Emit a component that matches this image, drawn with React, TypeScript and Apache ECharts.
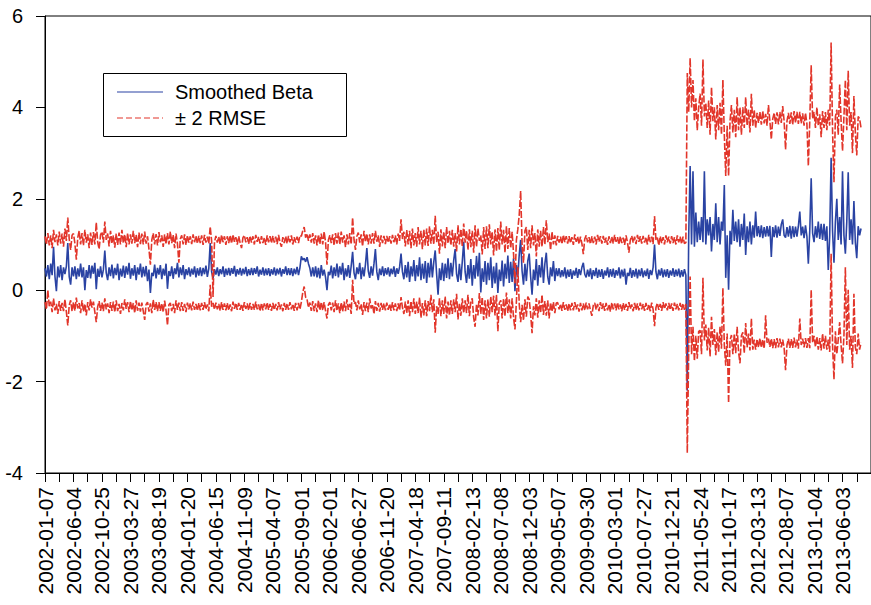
import React, { useEffect, useRef } from "react";
import * as echarts from "echarts";

// x-axis tick labels (one every 100 observations)
const tickLabels = [
  "2002-01-07", "2002-06-04", "2002-10-25", "2003-03-27", "2003-08-19",
  "2004-01-20", "2004-06-15", "2004-11-09", "2005-04-07", "2005-09-01",
  "2006-02-01", "2006-06-27", "2006-11-20", "2007-04-18", "2007-09-11",
  "2008-02-13", "2008-07-08", "2008-12-03", "2009-05-07", "2009-09-30",
  "2010-03-01", "2010-07-27", "2010-12-21", "2011-05-24", "2011-10-17",
  "2012-03-13", "2012-08-07", "2013-01-04", "2013-06-03",
];
const obsPerLabel = 100;
const obsPerPoint = 5; // one value read every 5 observations

const legendNames = ["Smoothed Beta", "± 2 RMSE"];

const smoothedBeta = [
  0.48,0.30,0.55,0.24,0.58,0.33,0.95,0.30,-0.02,0.52,0.28,0.55,0.22,0.50,0.35,0.52,1.03,0.30,0.12,0.50,
  0.30,0.52,0.24,0.48,0.30,0.58,0.28,0.50,0.00,0.44,0.27,0.55,0.26,0.54,0.36,0.60,0.02,0.47,0.29,0.52,
  0.28,0.45,0.87,0.38,0.22,0.50,0.31,0.56,0.26,0.49,0.33,0.58,0.22,0.47,0.30,0.54,0.27,0.52,0.34,0.60,
  0.25,0.48,0.32,0.55,0.22,0.50,0.34,0.58,0.28,0.51,0.30,0.53,0.20,0.45,-0.06,0.38,0.31,0.56,0.26,0.49,
  0.34,0.55,0.24,0.47,0.32,0.58,0.03,0.42,0.31,0.52,0.25,0.48,0.35,0.60,0.28,0.50,0.33,0.55,0.24,0.46,
  0.33,0.50,0.30,0.47,0.34,0.52,0.28,0.48,0.32,0.50,0.31,0.49,0.35,0.54,0.29,0.47,1.03,0.40,0.26,0.46,
  0.34,0.50,0.31,0.46,0.35,0.52,0.29,0.47,0.33,0.49,0.32,0.48,0.36,0.53,0.30,0.46,0.34,0.49,0.32,0.47,
  0.35,0.51,0.31,0.46,0.33,0.49,0.33,0.48,0.36,0.52,0.30,0.45,0.34,0.50,0.32,0.47,0.33,0.48,0.31,0.46,
  0.34,0.50,0.32,0.47,0.35,0.49,0.30,0.46,0.36,0.52,0.33,0.48,0.33,0.48,0.31,0.47,0.35,0.51,0.33,0.49,
  0.74,0.66,0.70,0.62,0.72,0.58,0.48,0.30,0.50,0.30,0.52,0.28,0.49,0.26,0.55,0.32,0.45,0.28,0.00,0.40,
  0.33,0.54,0.26,0.50,0.31,0.58,0.28,0.52,0.34,0.60,0.22,0.48,0.30,0.55,0.27,0.53,0.84,0.38,0.24,0.50,
  0.35,0.60,0.24,0.50,0.30,0.56,0.92,0.42,0.27,0.52,0.32,0.58,0.90,0.40,0.22,0.47,0.33,0.52,0.31,0.48,
  0.34,0.50,0.30,0.47,0.35,0.52,0.29,0.48,0.36,0.51,0.80,0.40,0.24,0.55,0.28,0.62,0.18,0.52,0.30,0.66,
  0.20,0.55,0.30,0.72,0.22,0.58,0.25,0.64,0.16,0.60,0.28,0.70,0.28,0.62,0.87,0.35,-0.10,0.48,0.22,0.60,
  0.20,0.58,0.27,0.70,0.24,0.60,0.30,0.66,0.90,0.35,0.18,0.58,0.22,0.62,1.06,0.40,0.16,0.55,0.25,0.68,
  0.10,0.55,0.25,0.75,0.30,0.82,-0.05,0.48,0.18,0.64,0.12,0.60,0.22,0.72,0.05,0.52,0.15,0.60,-0.06,0.45,
  0.20,0.65,0.08,0.58,0.25,0.76,0.16,0.62,0.18,0.70,-0.02,0.55,0.30,0.78,1.10,0.42,0.12,0.58,0.20,0.64,
  0.80,0.30,-0.10,0.45,0.22,0.68,0.10,0.55,0.28,0.72,0.16,0.58,0.82,0.30,0.12,0.50,0.30,0.64,0.20,0.48,
  0.31,0.48,0.28,0.44,0.30,0.50,0.26,0.45,0.29,0.46,0.25,0.43,0.32,0.49,0.27,0.46,0.33,0.50,0.60,0.35,
  0.28,0.45,0.30,0.48,0.24,0.44,0.31,0.49,0.27,0.45,0.29,0.46,0.25,0.43,0.32,0.50,0.28,0.46,0.30,0.47,
  0.27,0.44,0.32,0.50,0.26,0.45,0.30,0.47,0.12,0.38,0.31,0.49,0.27,0.44,0.30,0.47,0.26,0.45,0.31,0.48,
  0.28,0.43,0.31,0.47,0.25,0.44,0.33,0.50,1.00,0.40,0.24,0.45,0.32,0.48,0.28,0.45,0.30,0.46,0.27,0.43,
  0.32,0.48,0.29,0.45,0.31,0.47,0.28,0.44,0.30,0.46,0.33,-2.20,1.20,2.72,1.00,2.60,0.95,1.70,1.05,1.50,
  1.10,1.60,1.05,2.60,1.00,1.55,1.20,1.60,0.85,1.45,1.10,1.90,1.05,1.60,1.00,1.50,1.30,2.30,0.27,1.20,
  0.01,1.30,1.00,1.76,1.08,1.50,1.05,1.55,0.95,1.45,1.10,1.68,0.77,1.40,1.05,1.50,1.00,1.42,1.15,1.72,
  1.18,1.40,1.16,1.42,1.14,1.38,1.17,1.40,1.18,1.41,0.73,1.38,1.16,1.42,1.15,1.39,1.19,1.44,1.55,1.20,
  1.15,1.38,1.17,1.41,1.13,1.40,1.16,1.39,1.17,1.40,1.72,1.20,1.39,1.14,1.42,1.18,0.58,1.30,2.45,1.25,
  1.05,1.40,1.15,1.50,1.12,1.45,1.10,1.45,1.08,1.40,0.44,1.20,2.90,1.30,0.60,1.50,2.00,1.10,1.60,1.00,
  2.60,1.20,0.80,1.50,2.58,1.10,1.55,1.00,1.95,1.05,0.70,1.40,1.20,1.35,
];

// Upper band: beta + 2 RMSE
const upperBand = [
  1.18,1.00,1.25,0.98,1.20,0.92,1.32,1.05,1.22,0.98,1.28,1.02,1.24,0.95,1.35,1.08,1.59,1.12,0.88,1.20,
  1.24,1.02,0.67,1.15,1.30,1.00,1.25,0.98,1.32,1.04,1.22,0.92,1.26,0.99,1.27,1.00,1.48,1.05,0.90,1.21,
  1.28,1.04,1.50,1.10,1.24,0.96,1.30,1.02,1.20,0.93,1.24,0.99,1.26,1.00,1.32,1.03,1.22,0.94,1.25,1.00,
  1.22,1.02,1.30,1.03,1.21,0.94,1.26,1.01,1.24,1.00,1.28,1.02,1.18,0.90,0.56,1.10,1.25,1.00,1.23,0.98,
  1.27,1.05,1.20,0.95,1.22,1.01,1.25,1.00,1.28,1.03,1.21,0.92,1.24,1.02,0.60,1.12,1.20,1.00,1.22,0.99,
  1.20,1.04,1.18,1.01,1.22,1.05,1.19,1.02,1.19,1.03,1.20,0.99,1.21,1.04,1.17,1.02,1.39,1.08,-0.15,1.05,
  1.19,1.04,1.17,1.01,1.21,1.05,1.18,0.99,1.18,1.03,1.20,1.02,1.22,1.06,1.16,1.00,1.18,1.04,0.92,1.15,
  1.20,1.05,1.16,1.01,1.19,1.04,1.18,1.00,1.21,1.06,1.17,1.02,1.18,1.03,1.15,0.99,1.20,1.05,1.18,1.03,
  1.19,1.04,1.17,1.01,1.21,1.05,0.95,1.16,1.03,1.18,1.02,1.19,1.05,1.20,1.00,1.16,1.04,1.17,1.03,1.20,
  1.18,1.30,1.38,1.15,1.24,1.08,1.22,1.04,1.25,1.02,1.20,0.98,1.22,1.01,1.24,1.00,1.28,1.05,0.56,1.10,
  1.20,1.03,1.22,0.98,1.25,1.02,1.26,1.00,1.28,1.04,1.20,0.94,1.22,1.00,1.25,1.00,1.59,1.10,0.88,1.18,
  1.26,1.04,1.22,0.96,1.30,1.05,1.24,1.00,1.22,1.02,1.25,1.02,1.30,1.06,1.20,0.95,1.20,1.03,1.19,1.01,
  1.19,1.04,1.18,1.02,1.21,1.05,1.20,1.00,1.24,1.08,1.55,1.12,1.28,0.96,1.32,1.00,1.30,0.92,1.35,0.98,
  1.25,0.95,1.38,1.00,1.30,0.90,1.33,0.98,1.35,0.97,1.40,1.02,1.32,1.00,1.63,1.05,1.28,0.80,1.33,0.96,
  1.28,0.92,1.38,1.02,1.30,0.98,1.32,0.95,1.25,0.85,1.42,1.00,1.34,0.96,1.46,1.04,1.30,0.88,1.33,0.94,
  1.30,0.82,1.42,0.95,1.35,1.08,1.20,0.78,1.38,0.90,1.40,0.92,1.44,1.00,1.28,0.76,1.33,0.85,1.36,0.88,
  1.50,1.00,1.32,0.82,1.40,0.90,1.36,0.92,1.28,0.80,0.15,1.10,1.33,1.65,2.17,1.00,0.60,1.30,1.38,0.88,
  1.32,0.92,1.42,0.98,1.25,0.74,1.33,0.95,1.30,0.95,1.38,1.00,1.53,1.05,1.24,0.88,1.28,1.00,1.20,0.98,
  1.19,1.04,1.17,1.01,1.21,1.05,1.18,1.02,1.18,1.03,1.16,0.99,1.22,1.06,1.17,1.01,1.17,1.02,0.79,1.12,
  1.20,1.05,1.16,1.01,1.18,1.03,1.17,1.00,1.21,1.06,1.18,1.02,1.19,1.04,1.15,0.99,1.18,1.03,1.17,1.02,
  1.21,1.06,1.16,1.00,1.18,1.03,1.15,0.99,1.20,1.05,0.82,1.10,1.19,1.04,1.17,1.01,1.21,1.06,1.18,1.02,
  1.19,1.04,1.16,1.00,1.21,1.05,1.17,1.01,1.62,1.10,1.15,0.98,1.18,1.03,1.16,1.00,1.20,1.05,1.17,1.02,
  1.18,1.03,1.16,1.00,1.20,1.05,1.17,1.01,1.17,1.02,1.04,4.75,3.90,5.08,4.00,4.60,3.70,4.20,3.50,4.00,
  4.30,3.60,5.05,3.80,4.10,3.55,4.15,3.40,4.44,3.70,4.00,3.30,4.05,3.50,4.10,3.40,4.60,3.40,2.50,3.60,
  2.50,3.70,4.05,3.45,3.95,3.35,4.22,3.50,4.00,3.40,4.00,3.55,4.22,3.60,3.95,3.45,4.30,3.60,3.95,3.55,
  3.88,3.66,3.90,3.62,3.92,3.65,3.86,3.60,4.05,3.70,3.30,3.75,3.88,3.64,3.89,3.63,3.90,3.66,4.03,3.70,
  3.08,3.70,3.88,3.64,3.89,3.62,3.92,3.66,3.90,3.64,3.90,3.65,3.87,3.60,3.88,3.64,2.72,3.70,4.92,3.75,
  3.90,3.55,4.00,3.60,3.85,3.35,3.92,3.55,3.90,3.50,3.95,3.60,5.42,3.50,2.36,3.80,3.95,3.40,4.50,3.70,
  3.05,3.80,4.60,3.50,4.80,3.60,3.90,3.00,4.25,3.45,2.95,3.80,3.75,3.55,
];

// Lower band: beta - 2 RMSE
const lowerBand = [
  -0.26,-0.42,0.00,-0.35,-0.25,-0.48,-0.18,-0.44,-0.30,-0.52,-0.24,-0.45,-0.28,-0.46,-0.20,-0.47,-0.77,-0.33,-0.22,-0.46,
  -0.26,-0.45,-0.16,-0.40,-0.28,-0.50,-0.22,-0.47,-0.30,-0.55,-0.26,-0.44,-0.20,-0.38,-0.25,-0.48,-0.70,-0.36,-0.24,-0.45,
  -0.27,-0.46,-0.18,-0.42,-0.29,-0.50,-0.26,-0.45,-0.25,-0.48,-0.22,-0.46,-0.30,-0.52,-0.28,-0.44,-0.20,-0.41,-0.26,-0.48,
  -0.24,-0.44,-0.28,-0.50,-0.22,-0.45,-0.27,-0.47,-0.27,-0.46,-0.65,-0.31,-0.26,-0.47,-0.29,-0.50,-0.21,-0.43,-0.26,-0.46,
  -0.26,-0.45,-0.29,-0.48,-0.23,-0.44,-0.77,-0.32,-0.28,-0.46,-0.30,-0.50,-0.22,-0.43,-0.27,-0.46,-0.26,-0.45,-0.30,-0.48,
  -0.27,-0.42,-0.29,-0.44,-0.25,-0.43,-0.30,-0.45,-0.28,-0.44,-0.28,-0.43,-0.26,-0.42,-0.31,-0.46,0.12,-0.36,-0.28,-0.42,
  -0.27,-0.42,-0.30,-0.45,-0.26,-0.43,-0.29,-0.44,-0.28,-0.44,-0.31,-0.46,-0.25,-0.41,-0.28,-0.43,-0.28,-0.43,-0.30,-0.45,
  -0.26,-0.41,-0.29,-0.44,-0.28,-0.43,-0.30,-0.43,-0.25,-0.42,-0.31,-0.46,-0.28,-0.44,-0.29,-0.42,-0.27,-0.43,-0.30,-0.45,
  -0.28,-0.43,-0.30,-0.44,-0.26,-0.42,-0.31,-0.46,-0.28,-0.43,-0.29,-0.43,-0.26,-0.42,-0.30,-0.45,-0.28,-0.44,-0.28,-0.42,
  -0.26,-0.05,0.08,-0.15,-0.20,-0.38,-0.27,-0.45,-0.24,-0.46,-0.29,-0.48,-0.22,-0.44,-0.26,-0.44,-0.26,-0.45,-0.62,-0.32,
  -0.26,-0.44,-0.27,-0.48,-0.22,-0.45,-0.29,-0.50,-0.27,-0.47,-0.25,-0.46,-0.20,-0.43,-0.30,-0.52,0.23,-0.30,-0.26,-0.44,
  -0.22,-0.42,-0.30,-0.54,-0.26,-0.46,-0.27,-0.48,-0.18,-0.40,-0.31,-0.52,-0.24,-0.45,-0.28,-0.47,-0.28,-0.43,-0.29,-0.44,
  -0.27,-0.43,-0.30,-0.45,-0.26,-0.44,-0.29,-0.46,-0.29,-0.44,-0.15,-0.38,-0.52,-0.25,-0.50,-0.22,-0.57,-0.24,-0.48,-0.18,
  -0.52,-0.25,-0.50,-0.16,-0.60,-0.28,-0.55,-0.22,-0.57,-0.24,-0.46,-0.10,-0.48,-0.20,-0.93,-0.35,-0.52,-0.18,-0.57,-0.22,
  -0.52,-0.14,-0.62,-0.25,-0.55,-0.22,-0.52,-0.20,-0.48,-0.08,-0.64,-0.28,-0.56,-0.18,-0.50,-0.22,-0.50,-0.10,-0.57,-0.25,
  -0.18,-0.60,-0.80,-0.30,-0.55,-0.06,-0.52,-0.15,-0.65,-0.22,-0.62,-0.20,-0.58,-0.14,-0.48,-0.12,-0.55,-0.10,-0.90,-0.28,
  -0.22,-0.62,-0.18,-0.57,-0.05,-0.50,-0.20,-0.62,-0.18,-0.60,-0.86,-0.25,0.50,-0.30,-0.70,-0.32,-0.66,-0.20,-0.58,-0.14,
  -0.20,-0.52,-0.94,-0.35,-0.55,-0.18,-0.60,-0.22,-0.50,-0.10,-0.54,-0.24,-0.56,-0.22,-0.62,-0.27,-0.47,-0.26,-0.50,-0.28,
  -0.27,-0.42,-0.30,-0.45,-0.26,-0.43,-0.31,-0.46,-0.29,-0.44,-0.28,-0.44,-0.26,-0.42,-0.31,-0.47,-0.28,-0.44,-0.29,-0.44,
  -0.27,-0.42,-0.29,-0.44,-0.56,-0.33,-0.28,-0.43,-0.30,-0.46,-0.26,-0.41,-0.29,-0.45,-0.28,-0.44,-0.31,-0.47,-0.27,-0.42,
  -0.29,-0.44,-0.27,-0.42,-0.31,-0.46,-0.28,-0.43,-0.30,-0.45,-0.26,-0.41,-0.31,-0.46,-0.28,-0.43,-0.29,-0.44,-0.27,-0.42,
  -0.30,-0.45,-0.28,-0.43,-0.31,-0.46,-0.27,-0.42,-0.79,-0.38,-0.28,-0.43,-0.30,-0.45,-0.26,-0.41,-0.29,-0.44,-0.28,-0.43,
  -0.29,-0.45,-0.27,-0.42,-0.30,-0.44,-0.28,-0.43,-0.29,-0.43,-0.30,-3.56,-1.30,0.30,-1.40,-0.80,-1.55,-1.00,-1.50,-0.90,
  -0.88,-1.40,0.27,-1.10,-0.75,-1.32,-0.82,-1.45,-0.58,-1.20,-0.85,-1.42,-0.92,-1.35,-0.80,-1.28,0.05,-1.20,-1.65,-0.95,
  -2.47,-1.10,-0.98,-1.40,-0.95,-1.38,-0.80,-1.35,-1.60,-1.00,-0.92,-1.38,-0.72,-1.25,-0.95,-1.32,-0.62,-1.30,-1.08,-1.30,
  -1.07,-1.25,-1.05,-1.26,-1.08,-1.28,-0.55,-1.15,-1.06,-1.24,-1.06,-1.27,-1.07,-1.27,-1.05,-1.25,-1.06,-1.25,-1.08,-1.26,
  -1.75,-1.20,-1.06,-1.26,-1.07,-1.26,-1.04,-1.25,-1.08,-1.28,-0.62,-1.20,-1.06,-1.25,-1.05,-1.26,-1.05,-1.27,0.01,-1.15,
  -1.00,-1.24,-1.02,-1.30,-1.05,-1.32,-0.95,-1.28,-1.00,-1.30,-1.08,-1.35,0.80,-1.20,-1.95,-0.90,-1.40,-1.08,-0.70,-1.20,
  -1.60,-1.00,0.50,-1.20,0.01,-1.30,-1.00,-1.70,-0.08,-1.25,-1.40,-0.95,-1.30,-1.15,
];

const FONT = "'Liberation Sans', Arial, Helvetica, sans-serif";
const BLUE = "#2A43A3";
const RED = "#E2352A";
const DASH = [7, 2];

const toPairs = (arr: number[]) => arr.map((v, i) => [i * obsPerPoint, v]);

export default function App() {
  const ref = useRef<HTMLDivElement>(null);

  useEffect(() => {
    if (!ref.current) return;
    const chart = echarts.init(ref.current, undefined, { renderer: "svg" });
    chart.setOption({
      animation: false,
      backgroundColor: "#ffffff",
      grid: {
        left: 45,
        right: -10,
        top: 16,
        bottom: 132,
        show: true,
        borderColor: "#000",
        borderWidth: 1,
        backgroundColor: "transparent",
      },
      xAxis: {
        type: "value",
        min: 0,
        max: 2900,
        interval: 50,
        splitLine: { show: false },
        axisLine: { show: true, onZero: false, lineStyle: { color: "#000", width: 1 } },
        axisTick: { show: true, inside: false, length: 9, lineStyle: { color: "#000" } },
        axisLabel: {
          rotate: 90,
          margin: 14,
          fontSize: 21,
          color: "#000",
          fontFamily: FONT,
          showMaxLabel: false,
          formatter: (v: number) =>
            v % obsPerLabel === 0 ? tickLabels[v / obsPerLabel] ?? "" : "",
        },
      },
      yAxis: {
        type: "value",
        min: -4,
        max: 6,
        interval: 2,
        splitLine: { show: false },
        axisLine: { show: true, onZero: false, lineStyle: { color: "#000", width: 1 } },
        axisTick: { show: true, inside: false, length: 9, lineStyle: { color: "#000" } },
        axisLabel: {
          margin: 22,
          fontSize: 20,
          color: "#000",
          fontFamily: FONT,
        },
      },
      series: [
        {
          name: legendNames[0],
          type: "line",
          data: toPairs(smoothedBeta),
          symbol: "none",
          lineStyle: { color: BLUE, width: 1.6 },
          itemStyle: { color: BLUE },
          z: 2,
        },
        {
          name: legendNames[1],
          type: "line",
          data: toPairs(upperBand),
          symbol: "none",
          lineStyle: { color: RED, width: 1.6, type: DASH },
          itemStyle: { color: RED },
          z: 3,
        },
        {
          name: legendNames[1],
          type: "line",
          data: toPairs(lowerBand),
          symbol: "none",
          lineStyle: { color: RED, width: 1.6, type: DASH },
          itemStyle: { color: RED },
          z: 3,
        },
      ],
      graphic: [
        {
          type: "group",
          left: 103,
          top: 73,
          z: 100,
          children: [
            {
              type: "rect",
              shape: { x: 0.5, y: 0.5, width: 243, height: 63 },
              style: { fill: "#fff", stroke: "#000", lineWidth: 1 },
            },
            {
              type: "line",
              shape: { x1: 14, y1: 19, x2: 60, y2: 19 },
              style: { stroke: BLUE, lineWidth: 1.2 },
            },
            {
              type: "line",
              shape: { x1: 14, y1: 45, x2: 60, y2: 45 },
              style: { stroke: RED, lineWidth: 1.2, lineDash: [6, 3] },
            },
            {
              type: "text",
              x: 72,
              y: 19,
              style: {
                text: legendNames[0],
                fill: "#000",
                font: `20px ${FONT}`,
                verticalAlign: "middle",
              },
            },
            {
              type: "text",
              x: 72,
              y: 45,
              style: {
                text: legendNames[1],
                fill: "#000",
                font: `20px ${FONT}`,
                verticalAlign: "middle",
              },
            },
          ],
        },
      ],
    });
    return () => chart.dispose();
  }, []);

  return (
    <div
      ref={ref}
      style={{ position: "fixed", left: 0, top: 0, width: 871, height: 605, background: "#fff" }}
    />
  );
}
